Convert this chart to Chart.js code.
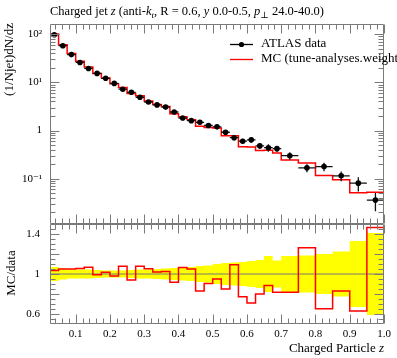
<!DOCTYPE html>
<html>
<head>
<meta charset="utf-8">
<script src="https://cdn.jsdelivr.net/npm/chart.js@4/dist/chart.umd.min.js"></script>
<style>
  html, body { margin: 0; padding: 0; background: #fff; }
  #wrap { position: relative; width: 397px; height: 358px; }
</style>
</head>
<body>
<div id="wrap"><canvas id="myChart"></canvas></div>
<script>
// bin edges in charged particle z
const binEdges = [0.025, 0.05, 0.075, 0.1, 0.125, 0.15, 0.175, 0.2, 0.225, 0.25,
  0.275, 0.3, 0.325, 0.35, 0.375, 0.4, 0.425, 0.45, 0.475, 0.5, 0.525, 0.55,
  0.575, 0.6, 0.625, 0.65, 0.675, 0.7, 0.75, 0.8, 0.85, 0.9, 0.95, 1.0];

// ATLAS data, (1/Njet) dN/dz
const dataVals = [97, 57.5, 37.6, 25.8, 19.4, 15.3, 12.1, 9.5, 7.2, 6.2,
  4.9, 3.9, 3.4, 3.06, 2.42, 1.82, 1.6, 1.48, 1.27, 1.19,
  0.92, 0.71, 0.60, 0.64, 0.48, 0.44, 0.42, 0.30, 0.168, 0.179,
  0.115, 0.081, 0.036];

// relative data uncertainty (yellow band)
const dataErr = [0.07, 0.055, 0.045, 0.045, 0.045, 0.04, 0.035, 0.035, 0.035, 0.04,
  0.045, 0.045, 0.05, 0.055, 0.06, 0.065, 0.07, 0.08, 0.085, 0.1,
  0.11, 0.115, 0.12, 0.13, 0.14, 0.18, 0.135, 0.18, 0.185, 0.2,
  0.225, 0.33, 0.41];

// MC prediction
const mcVals = [100.3, 60.4, 39.5, 27.2, 20.7, 15.2, 12.3, 9.31, 7.76, 5.83,
  5.28, 4.10, 3.47, 3.14, 2.22, 1.94, 1.68, 1.23, 1.15, 1.13,
  0.782, 0.775, 0.463, 0.454, 0.384, 0.389, 0.343, 0.245, 0.212, 0.117,
  0.0955, 0.051, 0.0527];

const logTicks = [0.1, 1, 10, 100];
const logTickLabels = ["10\u207B\u00B9", "1", "10\u00B9", "10\u00B2"];
const ratioTicks = [0.6, 0.8, 1.0, 1.2, 1.4];
const xTicks = [0.1, 0.2, 0.3, 0.4, 0.5, 0.6, 0.7, 0.8, 0.9, 1.0];

const SERIF = "'Liberation Serif', 'DejaVu Serif', serif";
const FRAME = "#7a7a7a";

const centres = dataVals.map((v, i) => (binEdges[i] + binEdges[i + 1]) / 2);
const ratioVals = mcVals.map((v, i) => v / dataVals[i]);
// histogram outline: one point per edge, last value repeated
const steps = vals => binEdges.map((x, i) => ({ x: x, y: vals[Math.min(i, vals.length - 1)] }));

const errorBars = {
  id: "errorBars",
  afterDatasetsDraw(chart) {
    const { ctx } = chart;
    const xs = chart.scales.x, ys = chart.scales.y;
    ctx.save();
    ctx.strokeStyle = "#111";
    ctx.lineWidth = 1.3;
    dataVals.forEach((v, i) => {
      const py = ys.getPixelForValue(v);
      const px = xs.getPixelForValue(centres[i]);
      ctx.beginPath();
      ctx.moveTo(xs.getPixelForValue(binEdges[i]), py);
      ctx.lineTo(xs.getPixelForValue(binEdges[i + 1]), py);
      ctx.moveTo(px, ys.getPixelForValue(v * (1 + dataErr[i])));
      ctx.lineTo(px, ys.getPixelForValue(v * (1 - dataErr[i])));
      ctx.stroke();
      ctx.beginPath();
      ctx.arc(px, py, 2.8, 0, Math.PI * 2);
      ctx.fillStyle = "#000";
      ctx.fill();
    });
    ctx.restore();
  }
};

const frameTicks = {
  id: "frameTicks",
  afterDraw(chart) {
    const { ctx } = chart;
    const xs = chart.scales.x, ys = chart.scales.y, rs = chart.scales.yRatio;
    const L = Math.round(xs.left) + 0.5, R = Math.round(xs.right) - 0.5;
    ctx.save();
    ctx.strokeStyle = FRAME;
    ctx.lineWidth = 1;
    ctx.beginPath();
    for (const s of [ys, rs]) {
      const T = Math.round(s.top) + 0.5, B = Math.round(s.bottom) - 0.5;
      ctx.rect(L, T, R - L, B - T);
      // x ticks, top and bottom of each panel
      for (let k = 2; k <= 50; k++) {
        const v = k * 0.02;
        const px = Math.round(xs.getPixelForValue(v)) + 0.5;
        const len = k % 5 === 0 ? 9 : 5;
        ctx.moveTo(px, T); ctx.lineTo(px, T + len);
        ctx.moveTo(px, B); ctx.lineTo(px, B - len);
      }
    }
    // log ticks
    for (let d = -2; d <= 2; d++) {
      for (let m = 1; m <= 9; m++) {
        const v = m * Math.pow(10, d);
        if (v < ys.min || v > ys.max) continue;
        const py = Math.round(ys.getPixelForValue(v)) + 0.5;
        const len = m === 1 ? 9 : 5;
        ctx.moveTo(L, py); ctx.lineTo(L + len, py);
        ctx.moveTo(R, py); ctx.lineTo(R - len, py);
      }
    }
    // ratio ticks
    for (let k = 10; k <= 30; k++) {
      const v = k * 0.05;
      if (v <= rs.min || v >= rs.max) continue;
      const py = Math.round(rs.getPixelForValue(v)) + 0.5;
      const len = (k % 4 === 0) ? 9 : 5;
      ctx.moveTo(L, py); ctx.lineTo(L + len, py);
      ctx.moveTo(R, py); ctx.lineTo(R - len, py);
    }
    ctx.stroke();

    // texts
    ctx.fillStyle = "#000";
    ctx.textBaseline = "alphabetic";
    drawRich(ctx, [
      { t: "Charged jet " }, { t: "z", i: true }, { t: " (anti-" }, { t: "k", i: true },
      { t: "t", i: true, sub: true }, { t: ", R = 0.6, " }, { t: "y", i: true },
      { t: " 0.0-0.5, " }, { t: "p", i: true }, { t: "\u22A5", sub: true }, { t: " 24.0-40.0)" }
    ], 50, 15, 12.5);

    drawRich(ctx, [{ t: "Charged Particle " }, { t: "z", i: true }], null, 352, 13, R + 0.5);

    ctx.save();
    ctx.font = "13px " + SERIF;
    ctx.translate(10, 23);
    ctx.rotate(-Math.PI / 2);
    ctx.textAlign = "right";
    ctx.textBaseline = "middle";
    ctx.fillText("(1/Njet)dN/dz", 0, 0);
    ctx.restore();

    ctx.save();
    ctx.font = "13px " + SERIF;
    ctx.translate(12, (rs.top + rs.bottom) / 2 - 1);
    ctx.rotate(-Math.PI / 2);
    ctx.textAlign = "center";
    ctx.textBaseline = "middle";
    ctx.fillText("MC/data", 0, 0);
    ctx.restore();

    // legend
    ctx.lineWidth = 1.3;
    ctx.strokeStyle = "#000";
    ctx.beginPath();
    ctx.moveTo(230, 44.5); ctx.lineTo(253, 44.5);
    ctx.stroke();
    ctx.beginPath();
    ctx.arc(241.5, 44.5, 2.6, 0, Math.PI * 2);
    ctx.fill();
    ctx.strokeStyle = "#ff0000";
    ctx.beginPath();
    ctx.moveTo(230, 59.5); ctx.lineTo(253, 59.5);
    ctx.stroke();
    ctx.font = "13px " + SERIF;
    ctx.textAlign = "left";
    ctx.textBaseline = "middle";
    ctx.fillText("ATLAS data", 261, 44);
    ctx.fillText("MC (tune-analyses.weight", 261, 59);
    ctx.restore();
  }
};

function drawRich(ctx, segs, x, y, size, rightEdge) {
  const fontOf = s => (s.i ? "italic " : "") + (s.sub ? Math.round(size * 0.7) : size) + "px " + SERIF;
  ctx.save();
  ctx.textAlign = "left";
  if (x === null) {
    let w = 0;
    segs.forEach(s => { ctx.font = fontOf(s); w += ctx.measureText(s.t).width; });
    x = rightEdge - w;
  }
  segs.forEach(s => {
    ctx.font = fontOf(s);
    ctx.fillText(s.t, x, s.sub ? y + 3 : y);
    x += ctx.measureText(s.t).width;
  });
  ctx.restore();
}

const config = {
  type: "line",
  data: {
    datasets: [
      {
        label: "MC",
        data: steps(mcVals),
        yAxisID: "y",
        stepped: "before",
        borderColor: "#ff0000",
        borderWidth: 1.5,
        pointRadius: 0,
        fill: false,
        order: 1,
      },
      {
        label: "MC/data",
        data: steps(ratioVals),
        yAxisID: "yRatio",
        stepped: "before",
        borderColor: "#ff0000",
        borderWidth: 1.5,
        pointRadius: 0,
        fill: false,
        order: 2,
      },
      {
        label: "one",
        data: [{ x: binEdges[0], y: 1 }, { x: binEdges[binEdges.length - 1], y: 1 }],
        yAxisID: "yRatio",
        borderColor: "#777",
        borderWidth: 1,
        pointRadius: 0,
        fill: false,
        order: 3,
      },
      {
        label: "band high",
        data: steps(dataErr.map(e => 1 + e)),
        yAxisID: "yRatio",
        stepped: "before",
        borderWidth: 0,
        borderColor: "rgba(0,0,0,0)",
        pointRadius: 0,
        fill: false,
        order: 5,
      },
      {
        label: "band low",
        data: steps(dataErr.map(e => 1 - e)),
        yAxisID: "yRatio",
        stepped: "before",
        borderWidth: 0,
        borderColor: "rgba(0,0,0,0)",
        backgroundColor: "#ffff00",
        pointRadius: 0,
        fill: "-1",
        order: 4,
      },
    ],
  },
  options: {
    responsive: false,
    animation: false,
    layout: { padding: { top: 24, right: 13, left: 0, bottom: 0 } },
    plugins: {
      legend: { display: false },
      tooltip: { enabled: false },
    },
    scales: {
      x: {
        type: "linear",
        position: "bottom",
        min: 0.025,
        max: 1.0,
        grid: { display: false, drawTicks: false },
        border: { display: false },
        afterBuildTicks: s => { s.ticks = xTicks.map(v => ({ value: v })); },
        afterFit: s => { s.height = 34; },
        ticks: {
          autoSkip: false,
          maxRotation: 0,
          padding: 4,
          color: "#000",
          font: { family: SERIF, size: 11 },
          callback: v => v === 1 ? "1.0" : v.toFixed(1),
        },
      },
      // ratio panel is listed first so the stacked layout puts it below
      yRatio: {
        type: "linear",
        axis: "y",
        position: "left",
        stack: "panels",
        stackWeight: 1,
        min: 0.5,
        max: 1.5,
        grid: { display: false, drawTicks: false },
        border: { display: false },
        afterBuildTicks: s => { s.ticks = ratioTicks.map(v => ({ value: v })); },
        afterFit: s => { s.width = 50; },
        ticks: {
          padding: 10,
          color: "#000",
          font: { family: SERIF, size: 11 },
          callback: v => Math.abs(v - 1) < 1e-9 ? "1" : v.toFixed(1),
        },
      },
      y: {
        type: "logarithmic",
        position: "left",
        stack: "panels",
        stackWeight: 2,
        min: 0.0115,
        max: 162,
        grid: { display: false, drawTicks: false },
        border: { display: false },
        afterBuildTicks: s => { s.ticks = logTicks.map(v => ({ value: v })); },
        afterFit: s => { s.width = 50; },
        ticks: {
          padding: 8,
          color: "#000",
          font: { family: SERIF, size: 11 },
          callback: v => logTickLabels[logTicks.indexOf(v)],
        },
      },
    },
  },
  plugins: [errorBars, frameTicks],
};

const canvas = document.getElementById("myChart");
canvas.width = 397;
canvas.height = 358;
const myChart = new Chart(canvas, config);
</script>
</body>
</html>
